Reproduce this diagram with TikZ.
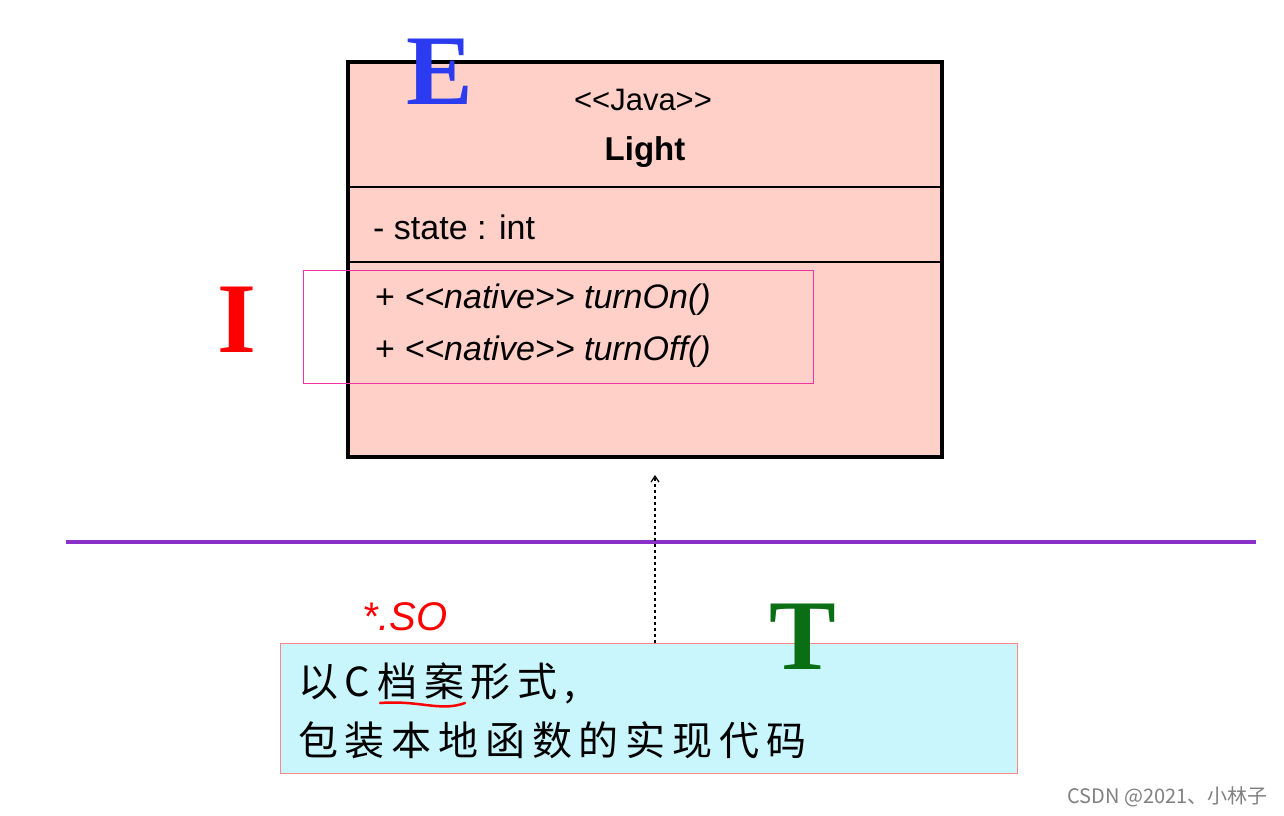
\documentclass[tikz,border=0pt]{standalone}
\usetikzlibrary{arrows.meta}
\usepackage{fontspec}
\setmainfont{Liberation Sans}
\newfontfamily\serifbig{Liberation Serif}
\newfontfamily\cjk[LetterSpace=17]{Noto Sans CJK SC}
\newfontfamily\cjkw{Noto Sans CJK SC}
\definecolor{pinkfill}{HTML}{FFD0C8}
\definecolor{cyanfill}{HTML}{C8F6FC}
\definecolor{purp}{HTML}{8B2FC9}
\definecolor{Eblue}{HTML}{2B3BF0}
\definecolor{Tgreen}{HTML}{0A6E14}
\newcommand{\ltlt}{{<}{<}}
\newcommand{\gtgt}{{>}{>}}
\tikzset{
 umltxt/.style={font=\fontsize{34}{36}\selectfont, inner sep=0},
 bigletter/.style={font=\serifbig\bfseries\fontsize{100}{100}\selectfont, inner sep=0},
 cjktxt/.style={font=\cjk\fontsize{40}{48}\selectfont, anchor=west, inner sep=0},
}
\begin{document}
\begin{tikzpicture}[x=1pt,y=-1pt]
\useasboundingbox (0,0) rectangle (1284,815);
\fill[white] (0,0) rectangle (1284,815);
\node[draw=black, line width=3.5pt, fill=pinkfill, minimum width=594pt, minimum height=395pt, anchor=north west, inner sep=0] (cls) at (346,60) {};
\draw[line width=2pt] (346,187) -- (940,187);
\draw[line width=2pt] (346,262) -- (940,262);
\node[umltxt, font=\fontsize{31}{34}\selectfont] (st) at (643,100) {\ltlt Java\gtgt};
\node[umltxt, font=\bfseries\fontsize{33}{34}\selectfont] (nm) at (645,152) {Light};
\node[umltxt, anchor=west] (att) at (373,227) {- state : int};
\node[umltxt, anchor=west] (m1) at (375,300) {+ \itshape \ltlt native\gtgt\ turnOn()};
\node[umltxt, anchor=west] (m2) at (375,352) {+ \itshape \ltlt native\gtgt\ turnOff()};
\node[draw=magenta!80!white, line width=1pt, minimum width=510pt, minimum height=113pt, anchor=north west, inner sep=0] (hl) at (303,270) {};
\node[bigletter, text=Eblue] (E) at (440,72) {E};
\node[bigletter, text=red] (I) at (237,320) {I};
\draw[purp, line width=4pt] (66,542) -- (1256,542);
\node[draw=pink!70!red, line width=1pt, fill=cyanfill, minimum width=737pt, minimum height=130pt, anchor=north west, inner sep=0] (cb) at (280,643) {};
\node[bigletter, text=Tgreen] (T) at (803,637) {T};
\coordinate (arrS) at (655,643);
\coordinate (arrE) at (655,475);
\draw[dashed, line width=1.2pt, -{Straight Barb[length=6pt,width=8pt]}] (arrS) -- (arrE);
\node[cjktxt] (l1) at (298,683) {以C档案形式,};
\node[cjktxt] (l2) at (298,740) {包装本地函数的实现代码};
\node[font=\itshape\fontsize{40}{40}\selectfont, text=red, inner sep=0] (so) at (405,617) {*.SO};
\draw[red, line width=2.5pt, line cap=round] (380,703) .. controls (420,700) and (440,712) .. (465,703);
\node[font=\cjkw\fontsize{20}{20}\selectfont, text=gray, anchor=east, inner sep=0] (wm) at (1268,797) {CSDN @2021、小林子};
\end{tikzpicture}
\end{document}
